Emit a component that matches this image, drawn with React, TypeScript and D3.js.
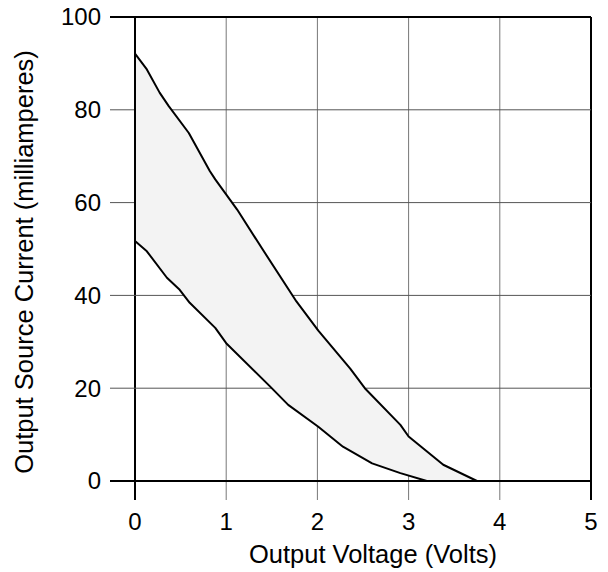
import React from 'react'
import { scaleLinear, line } from 'd3'

// upper and lower edges of the source current band
const upperVolts = [0, 0.13, 0.27, 0.37, 0.59, 0.82, 0.88, 1.12, 1.39, 1.77, 2.01, 2.36, 2.52, 2.91, 3.0, 3.38, 3.75]
const upperMilliamps = [92.1, 88.7, 83.7, 80.8, 75.0, 66.8, 65.0, 58.5, 50.2, 38.7, 32.4, 24.2, 20.0, 12.1, 9.6, 3.5, 0]
const lowerVolts = [0, 0.13, 0.35, 0.49, 0.6, 0.88, 1.0, 1.48, 1.68, 2.01, 2.28, 2.6, 2.91, 3.2]
const lowerMilliamps = [51.7, 49.5, 43.8, 41.2, 38.4, 33.0, 29.7, 20.4, 16.4, 11.7, 7.4, 3.8, 1.7, 0]

const xTicks = [0, 1, 2, 3, 4, 5]
const yTicks = [0, 20, 40, 60, 80, 100]

const width = 608
const height = 572
const font = 'Liberation Sans, Arial, sans-serif'

const App = () => {
    const x = scaleLinear().domain([0, 5]).range([135, 591])
    const y = scaleLinear().domain([0, 100]).range([481, 17])

    const upper = upperVolts.map((v, i) => [v, upperMilliamps[i]] as [number, number])
    const lower = lowerVolts.map((v, i) => [v, lowerMilliamps[i]] as [number, number])
    const band = [...upper, ...lower.slice().reverse()]

    const path = line<[number, number]>()
        .x(d => x(d[0]))
        .y(d => y(d[1]))

    return (
        <svg width={width} height={height} style={{ display: 'block', position: 'absolute', left: 0, top: 0, background: '#fff' }}>
            {/* grid */}
            {xTicks.map(t => (
                <line key={'gx' + t} x1={x(t)} x2={x(t)} y1={y(100)} y2={y(0) + 19}
                    stroke={t === 0 || t === 5 ? '#000' : '#777'} strokeWidth={t === 0 || t === 5 ? 2 : 1} />
            ))}
            {yTicks.map(t => (
                <line key={'gy' + t} x1={110} x2={x(5)} y1={y(t)} y2={y(t)}
                    stroke={t === 0 || t === 100 ? '#000' : '#555'} strokeWidth={t === 0 || t === 100 ? 2 : 1} />
            ))}

            <path d={path(band) + 'Z'} fill="#f3f3f3" stroke="#000" strokeWidth={2} strokeLinejoin="round" />

            {xTicks.map(t => (
                <text key={'tx' + t} x={x(t)} y={530} textAnchor="middle" fontFamily={font} fontSize={24} fill="#000">{t}</text>
            ))}
            {yTicks.map(t => (
                <text key={'ty' + t} x={101} y={y(t)} dy="0.35em" textAnchor="end" fontFamily={font} fontSize={24} fill="#000">{t}</text>
            ))}

            <text x={373} y={563} textAnchor="middle" fontFamily={font} fontSize={25.5} fill="#000">Output Voltage (Volts)</text>
            <text transform="translate(33,262) rotate(-90)" textAnchor="middle" fontFamily={font} fontSize={25.5} fill="#000">Output Source Current (milliamperes)</text>
        </svg>
    )
}

export default App
